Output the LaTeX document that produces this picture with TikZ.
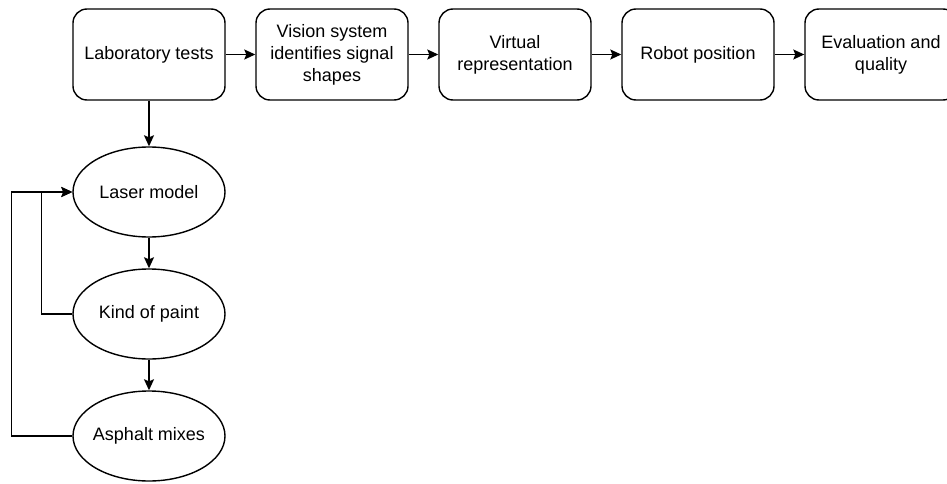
\documentclass[tikz,border=0pt]{standalone}
\usepackage{fontspec}
\setmainfont{Liberation Sans}
\usetikzlibrary{arrows.meta,shapes.geometric}

\tikzset{
  stepbox/.style={draw, line width=1.4pt, rounded corners=14pt, minimum width=152pt, minimum height=91pt, inner sep=2pt, align=center, font=\fontsize{18}{22}\selectfont},
  factor/.style={draw, ellipse, line width=1.4pt, minimum width=152pt, minimum height=90pt, inner xsep=-14pt, inner ysep=0pt, align=center, font=\fontsize{18}{22}\selectfont},
  flow/.style={line width=1.4pt, -{Stealth[length=11pt,width=10pt,inset=2pt]}}
}

\begin{document}
\begin{tikzpicture}[x=1pt,y=-1pt]

%definitions

\def\p{183} % box pitch
\def\h{54.5} % row height

\useasboundingbox (0,0) rectangle (947,484);

%
%main chain
%

\node[stepbox] (b1) at (149,\h) {Laboratory tests};
\node[stepbox] (b2) at (149+\p,\h) {Vision system\\identifies signal\\shapes};
\node[stepbox] (b3) at (149+2*\p,\h) {Virtual\\representation};
\node[stepbox] (b4) at (149+3*\p,\h) {Robot position};
\node[stepbox] (b5) at (149+4*\p,\h) {Evaluation and\\quality};

\foreach \i/\j in {1/2, 2/3, 3/4, 4/5} \draw[flow] (b\i.east) -- (b\j.west); %chain arrows

%
%lab factors
%

\node[factor] (laser) at (149,192) {Laser model};
\node[factor] (paint) at (149,314) {Kind of paint};
\node[factor] (asphalt) at (149,436) {Asphalt mixes};

\draw[flow] (b1.south) -- (laser.north);
\draw[flow] (laser.south) -- (paint.north);
\draw[flow] (paint.south) -- (asphalt.north);

\draw[flow] (paint.west) -- ++(-31,0) |- (laser.west); %inner loop
\draw[flow] (asphalt.west) -- ++(-61,0) |- (laser.west); %outer loop

\end{tikzpicture}
\end{document}
